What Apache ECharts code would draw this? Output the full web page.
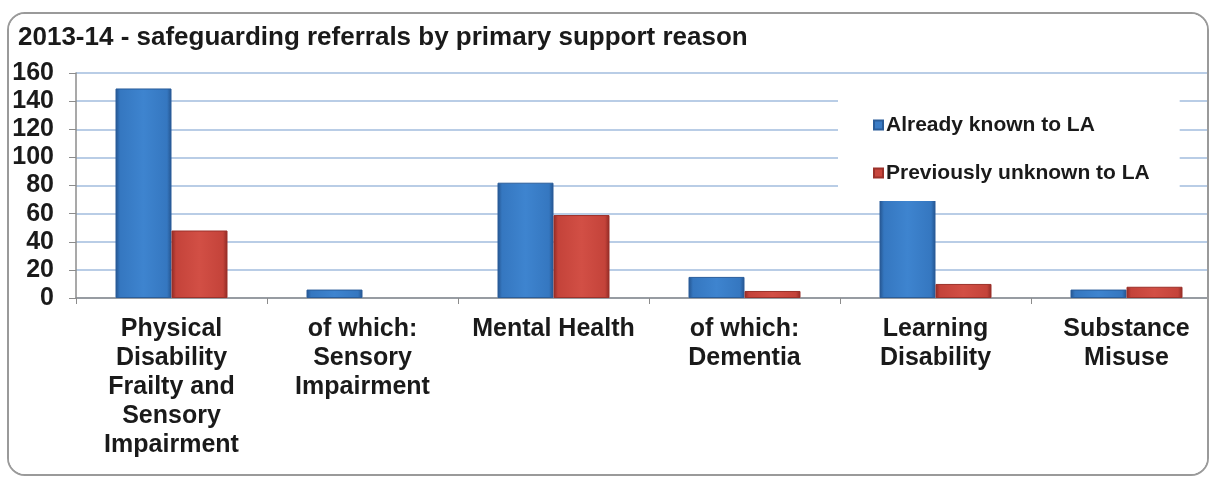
<!DOCTYPE html>
<html>
<head>
<meta charset="utf-8">
<script src="https://cdn.jsdelivr.net/npm/echarts@6/dist/echarts.min.js"></script>
<style>
  html, body { margin: 0; padding: 0; background: #fff; overflow: hidden; }
  #frame {
    position: absolute; left: 7px; top: 12px;
    width: 1202px; height: 464px; box-sizing: border-box;
    border: 2px solid #9a9a9a; border-radius: 18px; overflow: hidden;
    background: #fff;
  }
  /* the plot runs past the frame's right edge, so the canvas is wider and clipped by the frame */
  #chart { position: absolute; left: -9px; top: -14px; width: 1260px; height: 478px; }
</style>
</head>
<body>
<div id="frame"><div id="chart"></div></div>
<script>
// Safeguarding referrals 2013-14, split by whether the person was already known to the LA
const categories = [
  'Physical\nDisability\nFrailty and\nSensory\nImpairment',
  'of which:\nSensory\nImpairment',
  'Mental Health',
  'of which:\nDementia',
  'Learning\nDisability',
  'Substance\nMisuse'
];
const alreadyKnown = [149, 6, 82, 15, 70, 6];
const previouslyUnknown = [48, 0, 59, 5, 10, 8];
const yTicks = [0, 20, 40, 60, 80, 100, 120, 140, 160];

const FONT = '"Liberation Sans", Arial, sans-serif';

function bevel(edge, mid, dark) {
  return new echarts.graphic.LinearGradient(0, 0, 1, 0, [
    { offset: 0, color: dark },
    { offset: 0.08, color: edge },
    { offset: 0.5, color: mid },
    { offset: 0.92, color: edge },
    { offset: 1, color: dark }
  ]);
}

// zero-height bars are left undrawn (no outline stub on the axis)
function barData(values) {
  return values.map(v => v === 0 ? { value: 0, itemStyle: { opacity: 0 } } : v);
}

const chart = echarts.init(document.getElementById('chart'), null, { renderer: 'canvas' });
chart.setOption({
  animation: false,
  backgroundColor: '#fff',
  title: {
    text: '2013-14 - safeguarding referrals by primary support reason',
    left: 18, top: 25, padding: 0,
    textStyle: { fontFamily: FONT, fontWeight: 'bold', fontSize: 26, color: '#1a1a1a' }
  },
  legend: {
    orient: 'vertical',
    left: 838, top: 95,
    padding: [18, 30, 16, 35],
    backgroundColor: '#fff',
    itemWidth: 9, itemHeight: 9, itemGap: 24,
    icon: 'rect',
    textStyle: { fontFamily: FONT, fontWeight: 'bold', fontSize: 21, color: '#1a1a1a', lineHeight: 24, padding: [0, 0, 0, -2] },
    data: [
      { name: 'Already known to LA', itemStyle: { color: '#3a7cc6' } },
      { name: 'Previously unknown to LA', itemStyle: { color: '#c8463d' } }
    ],
    z: 5
  },
  grid: { left: 76, top: 73, width: 1146, height: 225, containLabel: false },
  xAxis: {
    type: 'category',
    data: categories,
    axisLine: { lineStyle: { color: '#8c8c8c', width: 1.5 } },
    axisTick: { show: true, length: 6, lineStyle: { color: '#8c8c8c' } },
    axisLabel: {
      interval: 0, margin: 17,
      fontFamily: FONT, fontWeight: 'bold', fontSize: 25, lineHeight: 29, color: '#1a1a1a'
    }
  },
  yAxis: {
    type: 'value',
    min: yTicks[0], max: yTicks[yTicks.length - 1], interval: yTicks[1] - yTicks[0],
    axisLine: { show: true, lineStyle: { color: '#8c8c8c', width: 1.5 } },
    axisTick: { show: true, length: 7, lineStyle: { color: '#8c8c8c' } },
    axisLabel: { margin: 22, fontFamily: FONT, fontWeight: 'bold', fontSize: 25, color: '#1a1a1a' },
    splitLine: { lineStyle: { color: '#b9cde6', width: 2 } }
  },
  series: [
    {
      name: 'Already known to LA',
      type: 'bar',
      data: barData(alreadyKnown),
      barWidth: 56,
      barGap: '0%',
      itemStyle: {
        color: bevel('#3577c0', '#3e84cf', '#24548e'),
        borderColor: '#2a5d9a', borderWidth: 1
      }
    },
    {
      name: 'Previously unknown to LA',
      type: 'bar',
      data: barData(previouslyUnknown),
      barWidth: 56,
      itemStyle: {
        color: bevel('#c4433a', '#d24f45', '#8f2a24'),
        borderColor: '#9c312a', borderWidth: 1
      }
    }
  ]
});
</script>
</body>
</html>
